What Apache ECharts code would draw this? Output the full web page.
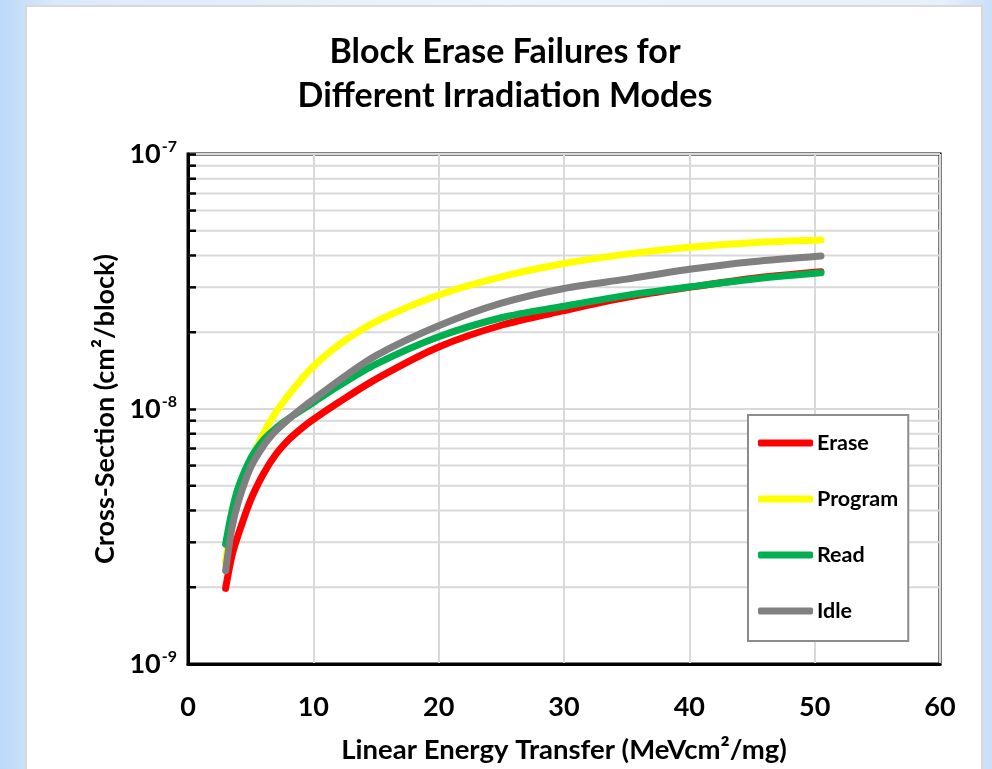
<!DOCTYPE html>
<html>
<head>
<meta charset="utf-8">
<script src="https://cdn.jsdelivr.net/npm/echarts@6/dist/echarts.min.js"></script>
<style>
  html, body { margin: 0; padding: 0; width: 992px; height: 769px; overflow: hidden; }
  body { background: linear-gradient(90deg, #bcd9f8 0%, #dbeafb 6%, #eef4fd 50%, #e6f0fc 95%, #c9dff8 100%); position: relative; }
  #panel { position: absolute; left: 25px; top: 5px; width: 958px; height: 780px; background: #fff; border: 2px solid #d9d9d9; box-sizing: border-box; }
  #chart { position: absolute; left: 0; top: 0; width: 992px; height: 769px; }
</style>
</head>
<body>
<div id="panel"></div>
<div id="chart"></div>
<script>
// ---- data ----
const titleText = 'Block Erase Failures for\nDifferent Irradiation Modes';
const xAxisName = 'Linear Energy Transfer (MeVcm\u00B2/mg)';
const yAxisName = 'Cross-Section (cm\u00B2/block)';
const seriesNames = ['Erase', 'Program', 'Read', 'Idle'];
const let_x = [3, 3.5, 4, 5, 6, 7, 8, 9, 10, 12, 15, 20, 25, 30, 35, 40, 45, 50.5];
const erase   = [1.98e-9, 2.65e-9, 3.2e-9, 4.4e-9, 5.55e-9, 6.63e-9, 7.55e-9, 8.35e-9, 9.1e-9, 1.06e-8, 1.31e-8, 1.75e-8, 2.13e-8, 2.43e-8, 2.74e-8, 3.0e-8, 3.25e-8, 3.45e-8];
const program = [2.5e-9, 3.7e-9, 4.6e-9, 6.2e-9, 8.0e-9, 9.7e-9, 1.13e-8, 1.3e-8, 1.47e-8, 1.78e-8, 2.2e-8, 2.8e-8, 3.3e-8, 3.72e-8, 4.05e-8, 4.31e-8, 4.49e-8, 4.6e-8];
const read    = [2.95e-9, 3.95e-9, 4.9e-9, 6.4e-9, 7.55e-9, 8.4e-9, 9.15e-9, 9.85e-9, 1.06e-8, 1.23e-8, 1.5e-8, 1.92e-8, 2.28e-8, 2.53e-8, 2.79e-8, 3.01e-8, 3.23e-8, 3.42e-8];
const idle    = [2.32e-9, 3.4e-9, 4.3e-9, 5.9e-9, 7.15e-9, 8.2e-9, 9.1e-9, 1.0e-8, 1.09e-8, 1.29e-8, 1.62e-8, 2.12e-8, 2.6e-8, 2.97e-8, 3.23e-8, 3.53e-8, 3.78e-8, 3.98e-8];
const minorGridValues = [2e-9, 3e-9, 4e-9, 5e-9, 6e-9, 7e-9, 8e-9, 9e-9, 2e-8, 3e-8, 4e-8, 5e-8, 6e-8, 7e-8, 8e-8, 9e-8];
const xMin = 0, xMax = 60, xStep = 10;
const yMin = 1e-9, yMax = 1e-7;
const seriesColors = ['#ff0000', '#ffff00', '#00b050', '#808080'];

const FONT = 'Lato, "Open Sans", sans-serif';
const allValues = [erase, program, read, idle];

const chart = echarts.init(document.getElementById('chart'), null, { renderer: 'canvas' });

const lineSeries = seriesNames.map((name, i) => ({
  name: name,
  type: 'line',
  data: let_x.map((x, k) => [x, allValues[i][k]]),
  smooth: 0.3,
  showSymbol: false,
  symbol: 'none',
  color: seriesColors[i],
  lineStyle: { width: 7, color: seriesColors[i], cap: 'round', join: 'round' },
  z: 3 + i
}));

const minorSeries = {
  name: 'minorGrid',
  type: 'custom',
  silent: true,
  z: 1,
  data: minorGridValues.map(v => [xMin, v]),
  renderItem: function (params, api) {
    const cs = params.coordSys;
    const y = api.coord([xMin, api.value(1)])[1];
    return {
      type: 'group',
      children: [
        { type: 'line', shape: { x1: cs.x, y1: y, x2: cs.x + cs.width, y2: y }, style: { stroke: '#d9d9d9', lineWidth: 2 } },
        { type: 'line', shape: { x1: cs.x, y1: y, x2: cs.x + 8, y2: y }, style: { stroke: '#000', lineWidth: 2.5 } }
      ]
    };
  }
};

const option = {
  backgroundColor: 'transparent',
  animation: false,
  graphic: [{
    type: 'text',
    x: 505, y: 30,
    style: {
      text: titleText,
      align: 'center', verticalAlign: 'top',
      font: 'bold 34px ' + FONT,
      lineHeight: 44,
      fill: '#000'
    }
  }],
  legend: {
    orient: 'vertical',
    left: 748, top: 415,
    data: seriesNames,
    icon: 'roundRect',
    itemWidth: 55, itemHeight: 7,
    itemGap: 34,
    padding: [17, 10, 19, 10],
    borderColor: '#8c8c8c', borderWidth: 2,
    backgroundColor: '#fff',
    textStyle: { fontFamily: FONT, fontWeight: 'bold', fontSize: 21.5, color: '#000', lineHeight: 21, padding: [0, 0, 0, -1] },
    z: 10
  },
  grid: {
    left: 188, top: 154, width: 752, height: 513,
    show: true, borderColor: '#000', borderWidth: 3, backgroundColor: 'transparent',
    containLabel: false
  },
  xAxis: {
    type: 'value', min: xMin, max: xMax, interval: xStep,
    name: xAxisName, nameLocation: 'middle', nameGap: 72,
    nameTextStyle: { fontFamily: FONT, fontWeight: 'bold', fontSize: 27.5, color: '#000' },
    axisLine: { show: true, onZero: false, lineStyle: { color: '#000', width: 3 } },
    axisTick: { show: false },
    axisLabel: { fontFamily: FONT, fontWeight: 'bold', fontSize: 27, color: '#000', margin: 30 },
    splitLine: { show: true, lineStyle: { color: '#d9d9d9', width: 2 } }
  },
  yAxis: {
    type: 'log', logBase: 10, min: yMin, max: yMax,
    name: yAxisName, nameLocation: 'middle', nameGap: 60,
    nameTextStyle: { fontFamily: FONT, fontWeight: 'bold', fontSize: 27, color: '#000' },
    axisLine: { show: true, lineStyle: { color: '#000', width: 3 } },
    axisTick: { show: true, inside: true, length: 8, lineStyle: { color: '#000', width: 2.5 } },
    axisLabel: {
      margin: 11,
      formatter: function (v) {
        const e = Math.round(Math.log10(v));
        return '{b|10}{s|' + e + '}';
      },
      rich: {
        b: { fontFamily: FONT, fontWeight: 'bold', fontSize: 27, color: '#000', lineHeight: 30 },
        s: { fontFamily: FONT, fontWeight: 'bold', fontSize: 16, color: '#000', lineHeight: 30, verticalAlign: 'top', padding: [0, 0, 10, 1] }
      }
    },
    splitLine: { show: true, lineStyle: { color: '#d9d9d9', width: 2 } }
  },
  series: [minorSeries].concat(lineSeries)
};
chart.setOption(option);
</script>
</body>
</html>
